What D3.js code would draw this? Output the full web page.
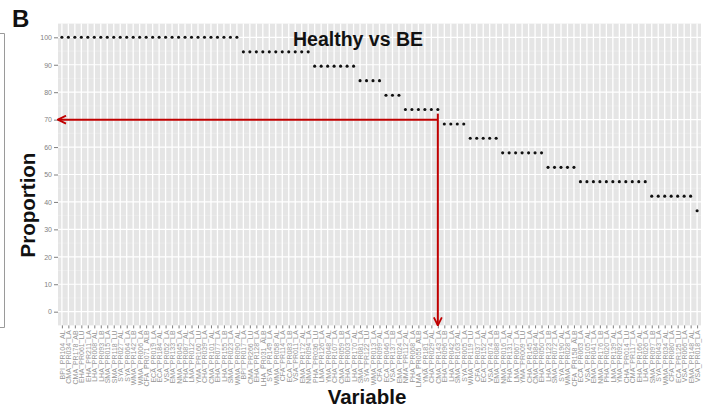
<!DOCTYPE html>
<html>
<head>
<meta charset="utf-8">
<script src="https://cdn.jsdelivr.net/npm/d3@7"></script>
<style>
  html, body { margin: 0; padding: 0; background: #fff; }
  svg { display: block; font-family: "Liberation Sans", Arial, sans-serif; }
</style>
</head>
<body>
<svg id="chart" width="703" height="410"></svg>
<script>
// Variables ordered by the proportion of samples in which they separate Healthy from BE
const variables = [
  "BPI_PR104_AL","CMA_PR034_LA","CMA_PR178_AB","EHA_PR061_LU","EHA_PR211_LA","LHA_PR008_AL","LHA_PR093_LB","SMA_PR015_LA",
  "SMA_PR118_LU","SYA_PR027_AL","SYA_PR064_LA","WMA_PR142_LB","WMA_PR006_LA","CFA_PR071_ALB","ECA_PR019_LA","ECA_PR184_AL",
  "VSA_PR052_LA","EMA_PR133_LB","NMA_PR045_LA","PHA_PR087_AL","LMA_PR012_LA","YMA_PR160_LU","CHA_PR039_LA","CMA_PR101_AL",
  "EHA_PR077_LA","LHA_PR155_LB","SMA_PR023_LA","WMA_PR090_AL","BPI_PR017_LA","CMA_PR266_LU","EHA_PR128_LA","LHA_PR031_ALB",
  "SYA_PR149_LA","WMA_PR058_AL","CFA_PR114_LA","ECA_PR083_LB","VSA_PR011_LA","EMA_PR172_AL","NMA_PR094_LA","PHA_PR036_LU",
  "LMA_PR126_LA","YMA_PR048_AL","CHA_PR107_LA","CMA_PR059_LB","EHA_PR003_LA","LHA_PR170_AL","SMA_PR081_LA","SYA_PR122_LU",
  "WMA_PR013_LA","CFA_PR099_AL","ECA_PR046_LA","VSA_PR137_LB","EMA_PR024_LA","NMA_PR112_AL","PHA_PR068_LA","LMA_PR055_ALB",
  "YMA_PR181_LA","CHA_PR029_AL","CMA_PR143_LA","EHA_PR096_LB","LHA_PR042_LA","SMA_PR163_AL","SYA_PR005_LA","WMA_PR119_LU",
  "CFA_PR037_LA","ECA_PR152_AL","VSA_PR074_LA","EMA_PR088_LB","NMA_PR016_LA","PHA_PR131_AL","LMA_PR067_LA","YMA_PR009_LU",
  "CHA_PR145_LA","CMA_PR084_AL","EHA_PR050_LA","LHA_PR123_LB","SMA_PR072_LA","SYA_PR190_AL","WMA_PR028_LA","CFA_PR158_ALB",
  "ECA_PR063_LA","VSA_PR105_AL","EMA_PR041_LA","NMA_PR176_LB","PHA_PR020_LA","LMA_PR139_AL","YMA_PR092_LA","CHA_PR014_LU",
  "CMA_PR117_LA","EHA_PR166_AL","LHA_PR026_LA","SMA_PR097_LB","SYA_PR043_LA","WMA_PR034_AL","CFA_PR080_LA","ECA_PR125_LU",
  "VSA_PR066_LA","EMA_PR148_AL","VSA_PR018_LA"
];

// Proportion (%) for each variable, same order as above
const proportions = [
  100,100,100,100,100,100,100,100,100,100,100,100,100,100,100,100,100,100,100,100,100,100,100,100,100,100,100,100,
  94.7,94.7,94.7,94.7,94.7,94.7,94.7,94.7,94.7,94.7,94.7,
  89.5,89.5,89.5,89.5,89.5,89.5,89.5,
  84.2,84.2,84.2,84.2,
  78.9,78.9,78.9,
  73.7,73.7,73.7,73.7,73.7,73.7,
  68.4,68.4,68.4,68.4,
  63.2,63.2,63.2,63.2,63.2,
  57.9,57.9,57.9,57.9,57.9,57.9,57.9,
  52.6,52.6,52.6,52.6,52.6,
  47.4,47.4,47.4,47.4,47.4,47.4,47.4,47.4,47.4,47.4,47.4,
  42.1,42.1,42.1,42.1,42.1,42.1,42.1,
  36.8
];

const yTicks = [0, 10, 20, 30, 40, 50, 60, 70, 80, 90, 100];
const yMinor = [5, 15, 25, 35, 45, 55, 65, 75, 85, 95];

// Cut-off marked on the chart: variable and proportion
const cutVariable = "CMA_PR143_LA";
const cutProportion = 70;

const svg = d3.select("#chart");
const panel = { left: 58, right: 701, top: 23.6, bottom: 325.4 };

const x = d3.scalePoint()
  .domain(variables)
  .range([panel.left, panel.right])
  .padding(0.6);

const y = d3.scaleLinear()
  .domain([-5, 105])
  .range([panel.bottom, panel.top]);

// Panel background
svg.append("rect")
  .attr("x", panel.left).attr("y", panel.top)
  .attr("width", panel.right - panel.left)
  .attr("height", panel.bottom - panel.top)
  .attr("fill", "#e5e5e5");

// Minor horizontal grid
svg.append("g").selectAll("line").data(yMinor).join("line")
  .attr("x1", panel.left).attr("x2", panel.right)
  .attr("y1", d => y(d)).attr("y2", d => y(d))
  .attr("stroke", "#f0f0f0").attr("stroke-width", 0.5);

// Major horizontal grid
svg.append("g").selectAll("line").data(yTicks).join("line")
  .attr("x1", panel.left).attr("x2", panel.right)
  .attr("y1", d => y(d)).attr("y2", d => y(d))
  .attr("stroke", "#ffffff").attr("stroke-width", 1.2);

// Vertical grid, one line per variable
svg.append("g").selectAll("line").data(variables).join("line")
  .attr("x1", d => x(d)).attr("x2", d => x(d))
  .attr("y1", panel.top).attr("y2", panel.bottom)
  .attr("stroke", "#ffffff").attr("stroke-width", 1.3);

// Y axis
const yAxis = svg.append("g")
  .attr("transform", `translate(${panel.left},0)`)
  .call(d3.axisLeft(y).tickValues(yTicks).tickSize(4).tickPadding(2));
yAxis.select(".domain").remove();
yAxis.selectAll(".tick line").attr("stroke", "#7f7f7f");
yAxis.selectAll(".tick text")
  .attr("fill", "#7f7f7f")
  .style("font-size", "7px")
  .style("font-family", "'Liberation Sans', Arial, sans-serif");

// X axis with vertical labels
const xAxis = svg.append("g")
  .attr("transform", `translate(0,${panel.bottom})`)
  .call(d3.axisBottom(x).tickSize(3).tickPadding(2));
xAxis.select(".domain").remove();
xAxis.selectAll(".tick line").attr("stroke", "#7f7f7f");
xAxis.selectAll(".tick text")
  .attr("fill", "#959595")
  .style("font-size", "7px")
  .style("font-family", "'Liberation Sans', Arial, sans-serif")
  .attr("transform", "rotate(-90)")
  .attr("text-anchor", "end")
  .attr("x", -5)
  .attr("y", 0)
  .attr("dy", "0.35em");

// Points
svg.append("g").selectAll("circle").data(variables).join("circle")
  .attr("cx", d => x(d))
  .attr("cy", (d, i) => y(proportions[i]))
  .attr("r", 1.55)
  .attr("fill", "#111");

// Cut-off arrows
const red = "#c00000";
const defs = svg.append("defs");
defs.append("marker")
  .attr("id", "arrowhead")
  .attr("viewBox", "0 0 10 10")
  .attr("refX", 9).attr("refY", 5)
  .attr("markerWidth", 5).attr("markerHeight", 5)
  .attr("orient", "auto-start-reverse")
  .append("path")
  .attr("d", "M1,1 L9,5 L1,9")
  .attr("fill", "none")
  .attr("stroke", red)
  .attr("stroke-width", 1.8);

const cx = x(cutVariable);
const cy = y(cutProportion);
svg.append("line")
  .attr("x1", cx).attr("y1", cy)
  .attr("x2", panel.left).attr("y2", cy)
  .attr("stroke", red).attr("stroke-width", 2)
  .attr("marker-end", "url(#arrowhead)");
svg.append("line")
  .attr("x1", cx).attr("y1", cy - 6)
  .attr("x2", cx).attr("y2", panel.bottom)
  .attr("stroke", red).attr("stroke-width", 2)
  .attr("marker-end", "url(#arrowhead)");

// Title
svg.append("text")
  .attr("x", 358).attr("y", 46)
  .attr("text-anchor", "middle")
  .attr("font-weight", "bold")
  .attr("font-size", 19.5)
  .attr("fill", "#111")
  .text("Healthy vs BE");

// Axis titles
svg.append("text")
  .attr("x", 367).attr("y", 404)
  .attr("text-anchor", "middle")
  .attr("font-weight", "bold")
  .attr("font-size", 20.5)
  .attr("fill", "#111")
  .text("Variable");

svg.append("text")
  .attr("transform", "translate(35,205) rotate(-90)")
  .attr("text-anchor", "middle")
  .attr("font-weight", "bold")
  .attr("font-size", 20.5)
  .attr("fill", "#111")
  .text("Proportion");

// Panel letter
svg.append("text")
  .attr("x", 12).attr("y", 27)
  .attr("font-weight", "bold")
  .attr("font-size", 24)
  .attr("fill", "#111")
  .text("B");

// Edge of the neighbouring panel frame
svg.append("path")
  .attr("d", "M0,33.5 H4.5 V327.5 H0")
  .attr("fill", "none")
  .attr("stroke", "#9a9a9a")
  .attr("stroke-width", 1);
</script>
</body>
</html>
